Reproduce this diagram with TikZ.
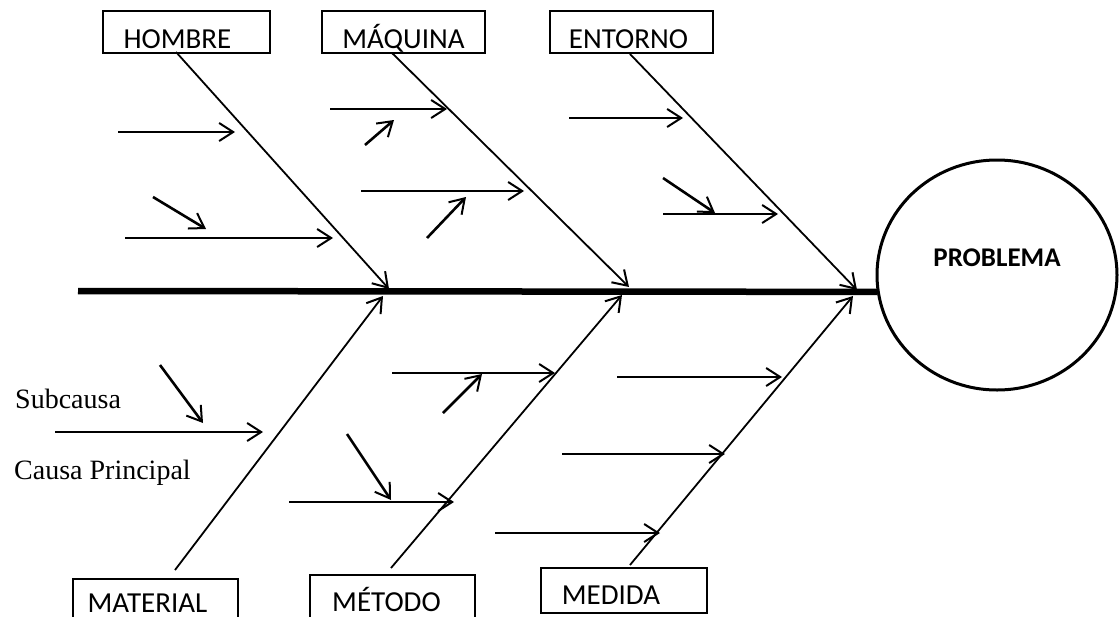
\documentclass[tikz,border=0pt]{standalone}
\usepackage{fontspec}
\setmainfont{Liberation Serif}
\newfontfamily\labelfont{Carlito}
\usetikzlibrary{arrows.meta,shapes.geometric}

\begin{document}
\begin{tikzpicture}[x=1pt,y=-1pt,
  tip/.style={-{Straight Barb[length=14pt,width=18pt,line width=2pt]}},
  bone/.style={tip,line width=1.8pt},
  twig/.style={tip,line width=2.6pt},
  spine/.style={line width=6.5pt},
  catbox/.style={draw,line width=2pt,inner sep=0pt,
    font=\labelfont\fontsize{29}{31}\selectfont},
  note/.style={anchor=base west,inner sep=0pt,font=\fontsize{28}{30}\selectfont},
]
\clip (0,0) rectangle (1119,616);

% effect
\node[draw,ellipse,line width=3pt,minimum width=240pt,minimum height=230pt,
      inner sep=0pt,text height=18pt,text depth=36pt,
      font=\labelfont\bfseries\fontsize{27}{30}\selectfont]
      (problem) at (997,275) {PROBLEMA};

% categories (the trailing space nudges each label left of the box centre)
\node[catbox,minimum width=167pt,text height=37pt,text depth=5pt,anchor=north] (hombre)   at (186.5,10) {HOMBRE\hspace*{18pt}};
\node[catbox,minimum width=163pt,text height=37pt,text depth=5pt,anchor=north] (maquina)  at (403.5,10) {MÁQUINA};
\node[catbox,minimum width=163pt,text height=37pt,text depth=5pt,anchor=north] (entorno)  at (631.5,10) {ENTORNO\hspace*{6pt}};
\node[catbox,minimum width=165pt,text height=33pt,text depth=8pt,anchor=north] (material) at (155.5,578) {MATERIAL\hspace*{16pt}};
\node[catbox,minimum width=165pt,text height=36pt,text depth=9pt,anchor=north] (metodo)   at (392.5,574) {MÉTODO\hspace*{12pt}};
\node[catbox,minimum width=166pt,text height=36pt,text depth=9pt,anchor=north]  (medida)   at (624,567) {MEDIDA\hspace*{26pt}};

% spine
\coordinate (tail) at (78,291);
\draw[spine] (tail) -- (problem.188);

% main causes
\coordinate (h0) at (176,52);  \coordinate (h1) at (389,289);
\coordinate (q0) at (392,53);  \coordinate (q1) at (629,287);
\coordinate (e0) at (630,54);  \coordinate (e1) at (857,290);
\coordinate (m0) at (175,570); \coordinate (m1) at (383,296);
\coordinate (t0) at (391,568); \coordinate (t1) at (622,295);
\coordinate (d0) at (630,565); \coordinate (d1) at (853,296);
\draw[bone] (h0) -- (h1);
\draw[bone] (q0) -- (q1);
\draw[bone] (e0) -- (e1);
\draw[bone] (m0) -- (m1);
\draw[bone] (t0) -- (t1);
\draw[bone] (d0) -- (d1);

% sub-causes, upper half
\coordinate (a1) at (118,132); \coordinate (b1) at (235,132);
\coordinate (a2) at (153,197); \coordinate (b2) at (206,229);
\coordinate (a3) at (125,238); \coordinate (b3) at (333,238);
\coordinate (a4) at (330,109); \coordinate (b4) at (447,109);
\coordinate (a5) at (365,145); \coordinate (b5) at (394,120);
\coordinate (a6) at (361,191); \coordinate (b6) at (524,191);
\coordinate (a7) at (427,238); \coordinate (b7) at (466,197);
\coordinate (a8) at (569,118); \coordinate (b8) at (683,118);
\coordinate (a9) at (663,178); \coordinate (b9) at (715,213);
\coordinate (a10) at (663,214); \coordinate (b10) at (778,214);
\foreach \i in {1,...,10} \draw[twig] (a\i) -- (b\i);

% sub-causes, lower half
\coordinate (c1) at (160,365); \coordinate (f1) at (203,423);
\coordinate (c2) at (55,432);  \coordinate (f2) at (263,432);
\coordinate (c3) at (392,373); \coordinate (f3) at (555,373);
\coordinate (c4) at (443,413); \coordinate (f4) at (482,374);
\coordinate (c5) at (347,434); \coordinate (f5) at (391,500);
\coordinate (c6) at (289,502); \coordinate (f6) at (454,502);
\coordinate (c7) at (617,377); \coordinate (f7) at (782,377);
\coordinate (c8) at (562,454); \coordinate (f8) at (725,454);
\coordinate (c9) at (495,533); \coordinate (f9) at (660,533);
\foreach \i in {1,...,9} \draw[twig] (c\i) -- (f\i);

% legend
\node[note] (sub) at (15,408) {Subcausa};
\node[note] (cp)  at (14,479) {Causa Principal};
\end{tikzpicture}
\end{document}
